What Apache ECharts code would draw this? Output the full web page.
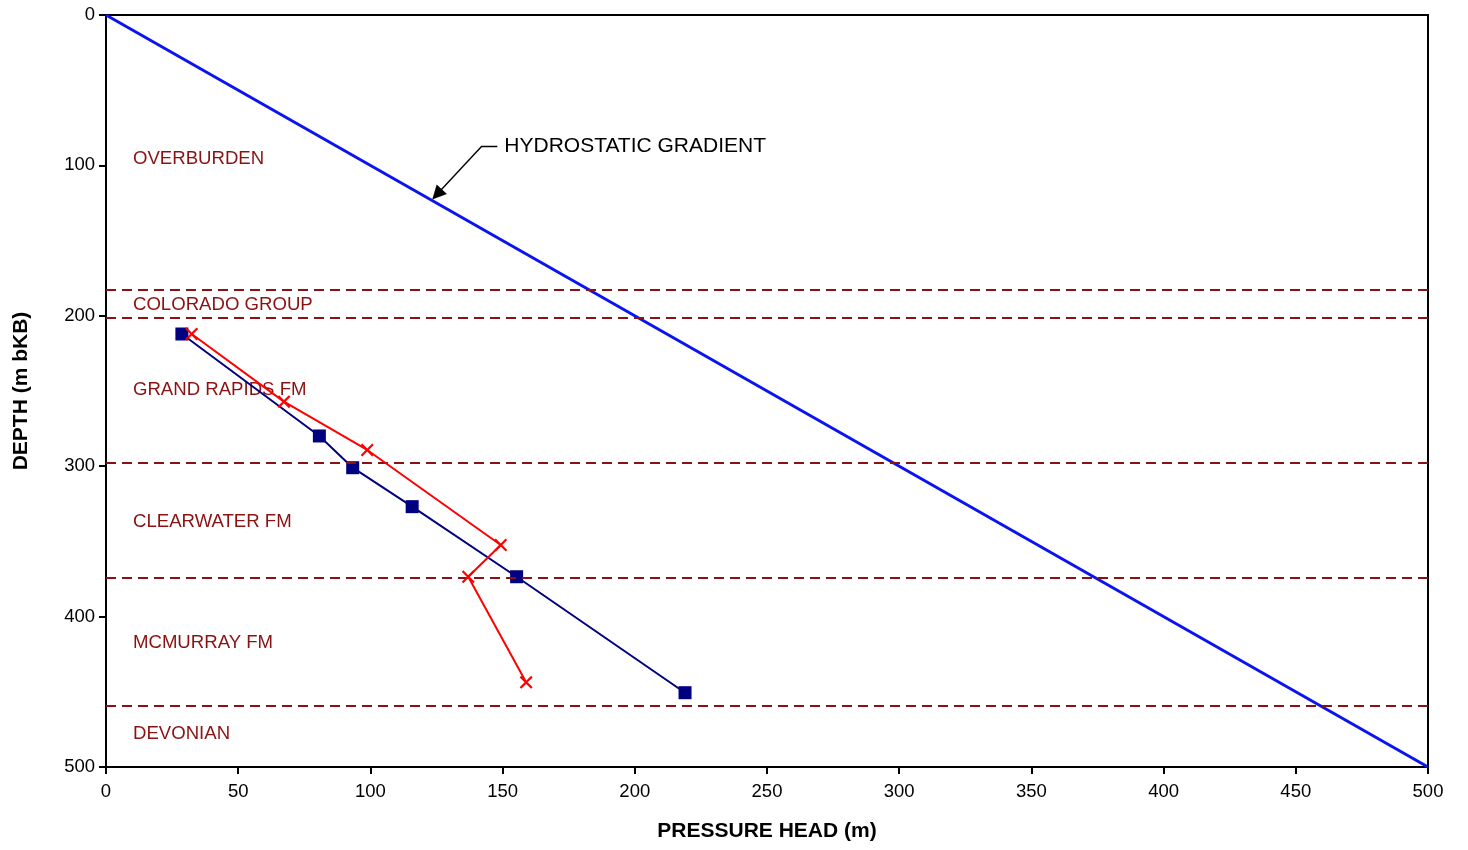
<!DOCTYPE html>
<html>
<head>
<meta charset="utf-8">
<script src="https://cdn.jsdelivr.net/npm/echarts@6/dist/echarts.min.js"></script>
<style>
  html, body { margin: 0; padding: 0; background: #fff; }
  #chart { width: 1468px; height: 850px; }
</style>
</head>
<body>
<div id="chart"></div>
<script>
// Pressure head (m) vs depth (m bKB) for two profiles
var profileAHead  = [28.7, 80.7, 93.3, 115.8, 155.3, 219.0];
var profileADepth = [212.1, 279.9, 301.0, 326.9, 373.5, 450.6];
var profileBHead  = [32.4, 67.3, 98.8, 149.3, 137.0, 158.9];
var profileBDepth = [212.1, 257.1, 289.2, 352.4, 373.5, 443.7];

// Hydrostatic gradient end points
var hydroHead  = [0, 500];
var hydroDepth = [0, 500];

// Formation boundaries (depth, m)
var boundaries = [183, 201.5, 298, 374, 459];

// Formation names and the depth at which each name sits
var formationNames  = ['OVERBURDEN', 'COLORADO GROUP', 'GRAND RAPIDS FM', 'CLEARWATER FM', 'MCMURRAY FM', 'DEVONIAN'];
var formationDepths = [95.5, 192.5, 249.5, 337, 417.5, 478];

// Callout for the hydrostatic line: label anchor, bend, arrowhead centre
var calloutText = 'HYDROSTATIC GRADIENT';
var calloutAnchor = [148, 87.1];
var calloutBend   = [142.2, 87.1];
var calloutTip    = [125.2, 119.2];

function pairs(xs, ys) {
  return xs.map(function (x, i) { return [x, ys[i]]; });
}

var crossPath = 'path://M0,1.2 L1.2,0 L5,3.8 L8.8,0 L10,1.2 L6.2,5 L10,8.8 L8.8,10 L5,6.2 L1.2,10 L0,8.8 L3.8,5 Z';

var chart = echarts.init(document.getElementById('chart'));

var textFont = "'Liberation Sans', Arial, sans-serif";

chart.setOption({
  animation: false,
  grid: {
    left: 106, top: 15, right: 40, bottom: 83,
    show: true, borderColor: '#000', borderWidth: 2, backgroundColor: 'transparent'
  },
  xAxis: {
    type: 'value', min: 0, max: 500, interval: 50,
    name: 'PRESSURE HEAD (m)', nameLocation: 'middle', nameGap: 54,
    nameTextStyle: { fontFamily: textFont, fontWeight: 'bold', fontSize: 21, color: '#000' },
    axisLine: { show: true, onZero: false, lineStyle: { color: '#000', width: 2 } },
    axisTick: { show: true, length: 7, lineStyle: { color: '#000', width: 2 } },
    axisLabel: { margin: 15, fontFamily: textFont, fontSize: 18.5, color: '#000' },
    splitLine: { show: false }
  },
  yAxis: {
    type: 'value', min: 0, max: 500, interval: 100, inverse: true,
    name: 'DEPTH (m bKB)', nameLocation: 'middle', nameGap: 74,
    nameTextStyle: { fontFamily: textFont, fontWeight: 'bold', fontSize: 21, color: '#000' },
    axisLine: { show: true, onZero: false, lineStyle: { color: '#000', width: 2 } },
    axisTick: { show: true, length: 7, lineStyle: { color: '#000', width: 2 } },
    axisLabel: { margin: 11, fontFamily: textFont, fontSize: 18.5, color: '#000' },
    splitLine: { show: false }
  },
  series: [
    {
      // formation names
      type: 'scatter', z: 1,
      symbolSize: 0,
      itemStyle: { opacity: 1 },
      data: formationNames.map(function (n, i) { return { name: n, value: [10.2, formationDepths[i]] }; }),
      label: {
        show: true, position: 'right', distance: 0,
        formatter: '{b}', fontFamily: textFont, fontSize: 18.6, color: '#8b1212'
      },
      silent: true
    },
    {
      // formation boundaries
      type: 'line', z: 2, data: [],
      markLine: {
        silent: true, symbol: 'none',
        label: { show: false },
        lineStyle: { color: '#8b1212', width: 2, type: [10, 6] },
        data: boundaries.map(function (d) { return { yAxis: d }; })
      }
    },
    {
      // hydrostatic gradient
      type: 'line', z: 3,
      data: pairs(hydroHead, hydroDepth),
      showSymbol: false, symbol: 'none',
      lineStyle: { color: '#0a14f0', width: 3 }
    },
    {
      type: 'line', z: 4,
      data: pairs(profileAHead, profileADepth),
      symbol: 'rect', symbolSize: 13,
      itemStyle: { color: '#000080' },
      lineStyle: { color: '#000080', width: 2 }
    },
    {
      type: 'line', z: 5,
      data: pairs(profileBHead, profileBDepth),
      symbol: crossPath, symbolSize: 13,
      itemStyle: { color: '#ff0000' },
      lineStyle: { color: '#ff0000', width: 2 }
    },
    {
      // callout leader: short horizontal tick, then arrow to the line
      type: 'lines', coordinateSystem: 'cartesian2d', z: 6,
      symbol: 'none',
      lineStyle: { color: '#000', width: 1.4, opacity: 1 },
      data: [{ coords: [calloutAnchor, calloutBend] }],
      silent: true
    },
    {
      type: 'lines', coordinateSystem: 'cartesian2d', z: 6,
      symbol: ['none', 'triangle'], symbolSize: [8, 14],
      lineStyle: { color: '#000', width: 1.4, opacity: 1 },
      data: [{ coords: [calloutBend, calloutTip] }],
      silent: true
    },
    {
      type: 'scatter', z: 6, symbolSize: 0, silent: true,
      itemStyle: { opacity: 1 },
      data: [{ name: calloutText, value: calloutAnchor }],
      label: {
        show: true, position: 'right', distance: 7,
        formatter: '{b}', fontFamily: textFont, fontSize: 21, color: '#000'
      }
    }
  ]
});
</script>
</body>
</html>
